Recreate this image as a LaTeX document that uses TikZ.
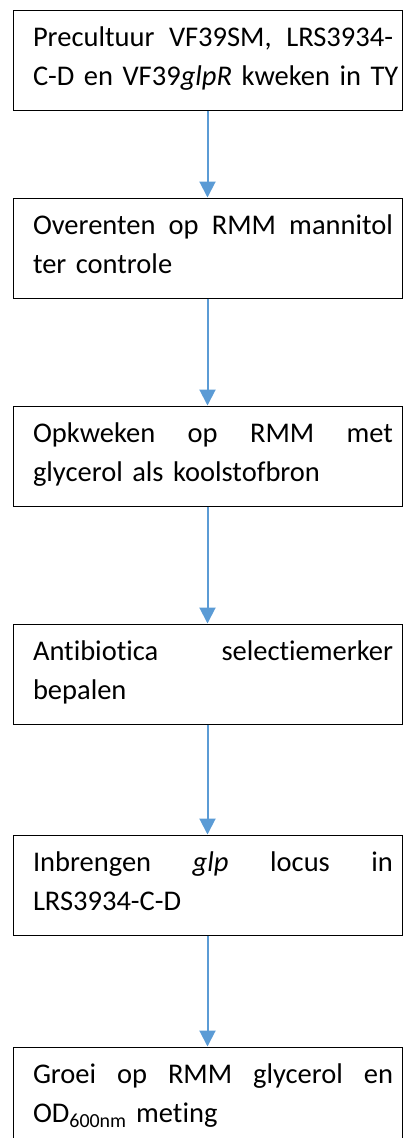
\documentclass[tikz,border=0pt]{standalone}
\usepackage{fontspec}
\setmainfont[Ligatures=NoCommon]{Carlito}
\usetikzlibrary{positioning, arrows.meta}
\definecolor{flowblue}{HTML}{5B9BD5}
\tikzset{
      white box/.style={
		draw=black,
		line width=1pt,
		minimum width=389pt,
		minimum height=100pt,
		inner xsep=9pt,
		inner ysep=0pt,
		text width=371pt,
		align=left,
		text height=20pt,
		text depth=47pt,
		font=\fontsize{28.5}{39}\selectfont,
		execute at begin node={\leftskip=11pt},
	  },
  		flow arrow/.style={
    	draw=flowblue,
    	line width=2pt,
    	-{Triangle[width=16pt,length=16pt]},
      }
  	}
\begin{document}
\begin{tikzpicture}[x=1pt, y=1pt]
    \useasboundingbox (0,0) rectangle (404,-1138);
    \node [white box] (0) at (207.5,-60) {Precultuur\hfill VF39SM,\hfill LRS3934-\\\mbox{C-D en VF39\textit{glpR} kweken in TY}};
    \node [white box, below=87pt of 0] (1) {Overenten\hfill op\hfill RMM\hfill mannitol\\ter controle};
    \node [white box, below=107pt of 1] (2) {Opkweken\hfill op\hfill RMM\hfill met\\glycerol als koolstofbron};
    \node [white box, below=117pt of 2] (3) {Antibiotica\hfill selectiemerker\\bepalen};
    \node [white box, below=110pt of 3] (4) {Inbrengen\hfill \textit{glp}\hfill locus\hfill in\\LRS3934-C-D};
    \node [white box, below=111pt of 4] (5) {Groei\hfill op\hfill RMM\hfill glycerol\hfill en\\OD\textsubscript{600nm} meting};
    % arrows between the steps
    \foreach \a/\b in {0/1, 1/2, 2/3, 3/4, 4/5}
        \draw [flow arrow] (\a) -- (\b);
  \end{tikzpicture}
\end{document}
